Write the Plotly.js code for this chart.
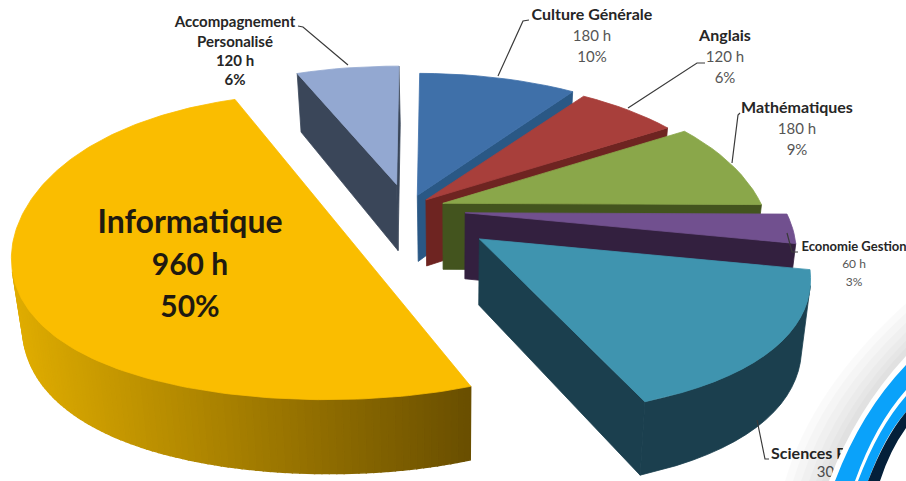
<!DOCTYPE html>
<html>
<head>
<meta charset="utf-8">
<script src="https://cdn.plot.ly/plotly-3.0.1.min.js"></script>
<style>html,body{margin:0;padding:0;background:#fff;overflow:hidden}#chart{width:906px;height:481px}</style>
</head>
<body>
<div id="chart"></div>
<script>
// Teaching hours per subject, clockwise from the top of the pie
const subjects = ['Accompagnement Personalisé', 'Culture Générale', 'Anglais', 'Mathématiques', 'Economie Gestion', 'Sciences Physique', 'Informatique'];
const hours = [120, 180, 120, 180, 60, 300, 960];
const percents = ['6%', '10%', '6%', '9%', '3%', '16%', '50%'];

// Per-slice explosion and fine adjustment of the projected wedge
const pulls = [0.2, 0.1, 0.08, 0.115, 0.18, 0.28, 0.268];
const turns = [0, 0, 0, 0, 0, 0, 2];
const widen = [0.955, 0.985, 1, 1, 1.01, 1.01, 0.96];
const stretch = [0.97, 1, 1, 1, 1, 1, 1.02];
const lifts = [0, -3, -4, -4, -2, 0, -8];
const topColors = ['#93A8D1', '#3F70A9', '#A83F3B', '#8AA74A', '#71508F', '#3F94AF', '#FABD00'];
const sideColors = ['#3A4659', '#2A5885', '#6E2421', '#43541E', '#33203F', '#1B3F4E', null];

// Pie projection settings
const ROTATION = 338, CENTER = [408, 212];
const RX = 318, RY = 145, KA = 0.225, KB = -0.075, KY = 0.188;
const VANISH_X = 453, DEPTH_SCALE = 0.975, DEPTH = 66, DEPTH_TILT = 8;

const rad = d => d * Math.PI / 180;
const project = (X, Y) => [X * RX / (1 + KA * Y + KB * Y * Y), -Y * RY / (1 + KY * Y)];
const lower = (p, Y) => [VANISH_X + (p[0] - VANISH_X) * DEPTH_SCALE, p[1] + DEPTH - DEPTH_TILT * Y];
const mix = (a, b, t) => {
  const pa = [1, 3, 5].map(i => parseInt(a.substr(i, 2), 16));
  const pb = [1, 3, 5].map(i => parseInt(b.substr(i, 2), 16));
  return 'rgb(' + pa.map((v, i) => Math.round(v + (pb[i] - v) * t)).join(',') + ')';
};
const poly = (pts, color) => ({
  type: 'scatter', mode: 'lines', fill: 'toself', fillcolor: color,
  x: pts.concat([pts[0]]).map(p => p[0]), y: pts.concat([pts[0]]).map(p => p[1]),
  line: {color: color, width: 0.8}, hoverinfo: 'skip', showlegend: false
});

const total = hours.reduce((a, b) => a + b, 0);
const traces = [];
let angle = ROTATION;
hours.forEach((h, i) => {
  const sweep = h / total * 360, start = angle + turns[i], end = start + sweep;
  angle += sweep;
  const mid = rad((start + end) / 2);
  const off = project(pulls[i] * Math.sin(mid), pulls[i] * Math.cos(mid));
  const apex = [CENTER[0] + off[0], CENTER[1] + off[1] + lifts[i]];
  // A half pie closes along its diameter, so the apex is only needed below 180 degrees
  const outline = sweep < 180 ? [{p: apex, Y: 0, rim: false}] : [];
  const rimStep = sideColors[i] ? 3 : 1;
  const steps = Math.max(6, Math.round(sweep / rimStep));
  for (let s = 0; s <= steps; s++) {
    const t = rad(start + sweep * s / steps), X = Math.sin(t), Y = Math.cos(t);
    const q = project(X, Y);
    outline.push({p: [apex[0] + q[0] * widen[i], apex[1] + q[1] * stretch[i]], Y: Y, rim: true});
  }
  // Side walls: walk the outline clockwise and keep those facing the viewer
  let run = [];
  const flush = () => {
    if (run.length > 1) {
      const up = run.map(o => o.p), down = run.map(o => lower(o.p, o.Y)).reverse();
      traces.push(poly(up.concat(down), sideColors[i]));
    }
    run = [];
  };
  outline.forEach((a, k) => {
    const b = outline[(k + 1) % outline.length];
    const a2 = lower(a.p, a.Y), b2 = lower(b.p, b.Y);
    const cross = (b.p[0] - a.p[0]) * (b2[1] - b.p[1]) - (b.p[1] - a.p[1]) * (b2[0] - b.p[0]);
    const facing = cross < 0;
    if (sideColors[i]) {
      // Plain walls: contiguous rim pieces merge into one polygon
      if (facing && a.rim && b.rim) {
        if (!run.length) run.push(a);
        run.push(b);
      } else {
        flush();
        if (facing) traces.push(poly([a.p, b.p, b2, a2], sideColors[i]));
      }
    } else if (facing) {
      const shade = mix('#E0AD00', '#6A4F00', Math.max(0, Math.min(1, (a.p[0] - 10) / 460)));
      const piece = poly([a.p, b.p, b2, a2], shade);
      piece.line.width = 1.4;
      traces.push(piece);
    }
  });
  flush();
  traces.push(poly(outline.map(o => o.p), topColors[i]));
});

// Leader lines from the labels to their slices
const leaders = [
  [[298, 26], [303, 27], [348, 65]],
  [[529, 20], [523, 21], [498, 76]],
  [[705, 63], [697, 63], [628, 108]],
  [[740, 113], [738, 115], [732, 163]],
  [[798, 252], [792, 252], [787, 233]],
  [[769, 459], [765, 459], [757, 420]]
];
leaders.forEach(l => traces.push({
  type: 'scatter', mode: 'lines', x: l.map(p => p[0]), y: l.map(p => p[1]),
  line: {color: '#3a3a3a', width: 1.2}, hoverinfo: 'skip', showlegend: false
}));

// Text labels, one entry per line so the line spacing can be set freely
const DARK = '#262626', GREY = '#555555';
const label = (cx, ys, lines, sizes, colors, bolds) => traces.push({
  type: 'scatter', mode: 'text', cliponaxis: false,
  x: ys.map(() => cx), y: ys,
  text: lines.map((t, k) => bolds[k] ? '<b>' + t + '</b>' : t),
  textposition: 'middle center',
  textfont: {family: 'Lato, sans-serif', size: sizes, color: colors},
  hoverinfo: 'skip', showlegend: false
});
label(235, [23, 43, 62, 81], ['Accompagnement', 'Personalisé', hours[0] + ' h', percents[0]], 15, [DARK, DARK, DARK, DARK], [1, 1, 1, 1]);
label(592, [16, 37, 58], [subjects[1], hours[1] + ' h', percents[1]], [16, 15, 15], [DARK, GREY, GREY], [1, 0, 0]);
label(725, [37, 58, 79], [subjects[2], hours[2] + ' h', percents[2]], [16, 15, 15], [DARK, GREY, GREY], [1, 0, 0]);
label(797, [109, 130, 151], [subjects[3], hours[3] + ' h', percents[3]], [16, 15, 15], [DARK, GREY, GREY], [1, 0, 0]);
label(854, [248, 265, 283], [subjects[4], hours[4] + ' h', percents[4]], [13, 12, 12], [DARK, GREY, GREY], [1, 0, 0]);
label(836, [455, 473], [subjects[5], hours[5] + ' h'], [16, 15], [DARK, GREY], [1, 0]);
label(190, [225, 267, 309], [subjects[6], hours[6] + ' h', percents[6]], [32, 30, 30], ['#1f1a10', '#1f1a10', '#1f1a10'], [1, 1, 1]);

// Decorative ribbon in the lower right corner, with its soft shadow
const band = (d, fill, opacity) => ({type: 'path', layer: 'above', path: d, fillcolor: fill, opacity: opacity === undefined ? 1 : opacity, line: {width: 0}});
const shapes = [];
[44, 36, 28, 20, 13, 7].forEach(d => shapes.push(
  band(`M${829 - d},481 Q${856 - d},${410 - d * 0.5} 906,${356 - d * 1.2} L906,481 Z`, '#000000', 0.02)
));
shapes.push(band('M829,481 Q856,410 906,356 L906,481 Z', '#ffffff'));
shapes.push(band('M835,481 Q861,412 906,365 L906,390 Q875,425 855,481 Z', '#0AA2FA'));
shapes.push(band('M858,481 Q878,428 906,396 L906,412 Q885,435 868,481 Z', '#0AA2FA'));
shapes.push(band('M868,481 Q885,437 906,412 L906,428 Q890,450 880,481 Z', '#04203A'));

Plotly.newPlot('chart', traces, {
  width: 906, height: 481,
  margin: {l: 0, r: 0, t: 0, b: 0},
  paper_bgcolor: '#ffffff', plot_bgcolor: '#ffffff',
  xaxis: {range: [0, 906], visible: false, fixedrange: true},
  yaxis: {range: [481, 0], visible: false, fixedrange: true},
  showlegend: false,
  shapes: shapes
}, {staticPlot: true, displayModeBar: false});
</script>
</body>
</html>
